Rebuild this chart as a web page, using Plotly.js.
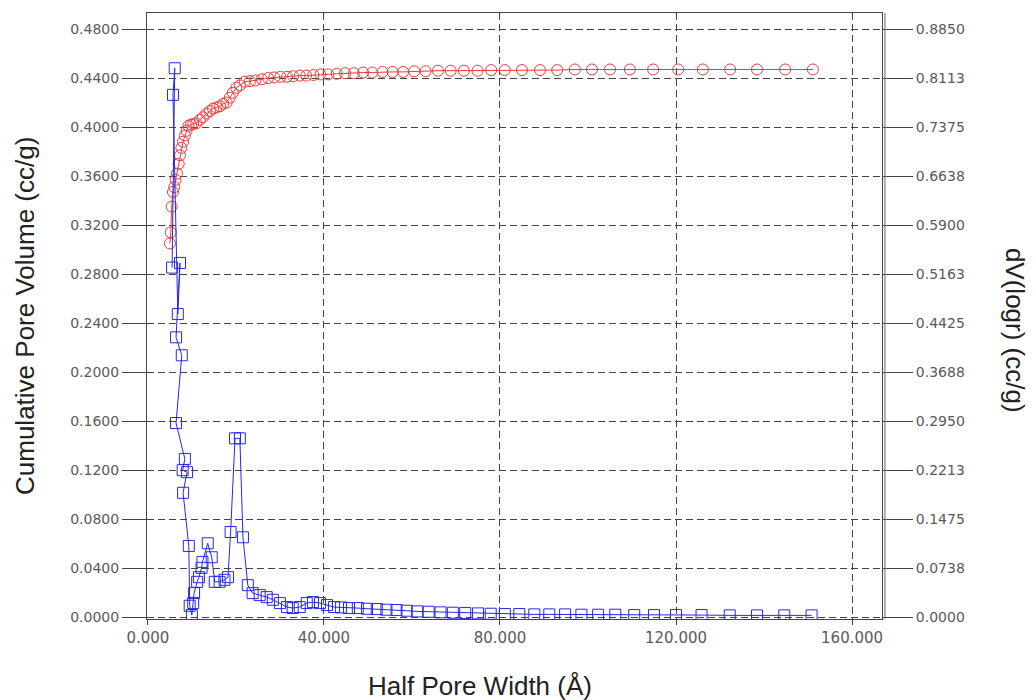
<!DOCTYPE html>
<html>
<head>
<meta charset="utf-8">
<script src="https://cdn.plot.ly/plotly-3.0.1.min.js"></script>
<style>html,body{margin:0;padding:0;background:#fff;}#chart{width:1035px;height:700px;}</style>
</head>
<body>
<div id="chart"></div>
<script>
// Cumulative pore volume (left axis, cc/g)
var cumX = [5.0,5.2,5.4,5.7,6.0,6.3,6.6,7.0,7.3,7.6,8.0,8.4,8.8,9.2,9.8,10.3,11.0,11.8,12.5,13.3,14.1,14.8,15.6,16.4,17.1,17.9,18.6,19.3,20.1,20.9,22.0,23.2,24.4,25.9,27.3,28.7,30.1,31.6,33.0,34.5,36.0,37.6,39.2,41.0,42.9,44.8,46.8,48.9,51.0,53.3,55.6,58.0,60.5,63.1,65.9,68.8,71.8,74.9,78.0,81.1,85.0,89.1,93.0,97.0,100.9,105.0,109.5,114.8,120.5,126.1,132.3,138.4,144.8,151.1];
var cumY = [0.305,0.314,0.335,0.347,0.351,0.357,0.362,0.370,0.377,0.383,0.388,0.393,0.397,0.401,0.402,0.4025,0.403,0.406,0.408,0.411,0.413,0.415,0.416,0.417,0.419,0.420,0.424,0.428,0.432,0.434,0.437,0.4375,0.438,0.439,0.440,0.4405,0.441,0.441,0.4415,0.442,0.442,0.4425,0.443,0.443,0.4435,0.444,0.444,0.4445,0.4445,0.445,0.445,0.445,0.4455,0.4455,0.446,0.446,0.446,0.446,0.4465,0.4465,0.4465,0.4465,0.4465,0.447,0.447,0.447,0.447,0.447,0.447,0.447,0.447,0.447,0.447,0.447];

// dV(logr) (right axis, cc/g)
var dvX = [5.5,6.1,5.7,6.8,7.3,6.4,7.7,6.4,8.4,7.9,8.9,8.0,9.3,9.5,10.0,10.3,10.5,11.2,11.6,12.2,12.4,13.6,14.5,15.2,16.3,17.4,18.2,18.8,19.8,20.9,21.6,22.7,23.8,25.4,27.0,28.4,30.0,31.6,32.9,34.5,36.1,37.5,39.1,40.7,42.3,43.9,45.7,47.7,49.8,52.0,54.2,56.5,58.8,61.2,63.8,66.5,69.3,72.1,75.0,77.9,81.1,84.4,87.8,91.2,94.8,98.5,102.3,106.2,110.5,115.0,120.0,125.8,132.2,138.4,144.6,150.8];
var dvY = [0.526,0.826,0.786,0.456,0.533,0.421,0.394,0.292,0.238,0.221,0.218,0.187,0.107,0.017,0.003,0.021,0.036,0.053,0.060,0.074,0.083,0.111,0.090,0.053,0.053,0.056,0.060,0.128,0.269,0.269,0.120,0.048,0.036,0.033,0.030,0.026,0.021,0.015,0.0135,0.015,0.021,0.0225,0.021,0.018,0.015,0.0145,0.0135,0.0135,0.0125,0.012,0.011,0.0105,0.0095,0.0085,0.008,0.007,0.0065,0.006,0.0055,0.005,0.0045,0.0045,0.004,0.004,0.004,0.0035,0.0035,0.0035,0.003,0.003,0.003,0.003,0.0025,0.0025,0.0025,0.0025];

var xTicks = [0,40,80,120,160];
var leftTicks = [0,0.04,0.08,0.12,0.16,0.20,0.24,0.28,0.32,0.36,0.40,0.44,0.48];
var rightTicks = [0,0.07375,0.1475,0.22125,0.295,0.36875,0.4425,0.51625,0.59,0.66375,0.7375,0.81125,0.885];
var rightTickText = ['0.0000','0.0738','0.1475','0.2213','0.2950','0.3688','0.4425','0.5163','0.5900','0.6638','0.7375','0.8113','0.8850'];

var tickFont = {family:'DejaVu Sans, sans-serif', size:14, color:'#5a5a5a'};
var xTickFont = {family:'DejaVu Sans, sans-serif', size:15, color:'#5a5a5a'};
var titleFont = {family:'Liberation Sans, Arial, sans-serif', size:26, color:'#222'};
var gridDash = '7px,4px';

var traces = [
  {x:cumX, y:cumY, type:'scatter', mode:'lines+markers', yaxis:'y',
   line:{color:'rgb(235,60,60)', width:1},
   marker:{symbol:'circle-open', size:11, color:'rgb(235,60,60)', line:{width:1, color:'rgb(235,60,60)'}},
   showlegend:false},
  {x:dvX, y:dvY, type:'scatter', mode:'lines+markers', yaxis:'y2',
   line:{color:'rgb(40,40,230)', width:1},
   marker:{symbol:'square-open', size:11, color:'rgb(40,40,230)', line:{width:1, color:'rgb(40,40,230)'}},
   showlegend:false}
];

var layout = {
  width:1035, height:700,
  margin:{l:147, r:153, t:13, b:81},
  paper_bgcolor:'#fff', plot_bgcolor:'#fff',
  xaxis:{range:[-0.2,166.8], tickvals:xTicks, tickformat:'.3f', showgrid:true,
         gridcolor:'#444', griddash:gridDash, gridwidth:1, zeroline:false,
         showline:true, linecolor:'#444', linewidth:1, mirror:true,
         ticks:'outside', ticklen:5, tickcolor:'#444', tickfont:xTickFont},
  yaxis:{range:[-0.0016,0.4931], tickvals:leftTicks, tickformat:'.4f', showgrid:true,
         gridcolor:'#444', griddash:gridDash, gridwidth:1, zeroline:false,
         showline:true, linecolor:'#444', linewidth:1,
         ticks:'outside', ticklen:24, tickcolor:'#444', tickfont:tickFont},
  yaxis2:{range:[-0.00295,0.90916], overlaying:'y', side:'right', tickvals:rightTicks, ticktext:rightTickText,
          showgrid:false, zeroline:false, showline:true, linecolor:'#444', linewidth:1,
          ticks:'outside', ticklen:30, tickcolor:'#444', tickfont:tickFont},
  shapes:[
    {type:'line', xref:'paper', yref:'paper', x0:1.004, x1:1.004, y0:0, y1:1.0, line:{color:'#666', width:1}}
  ],
  annotations:[
    {text:'Cumulative Pore Volume (cc/g)', xref:'paper', yref:'paper', x:-0.166, y:0.5,
     xanchor:'center', yanchor:'middle', textangle:-90, showarrow:false, font:titleFont},
    {text:'dV(logr) (cc/g)', xref:'paper', yref:'paper', x:1.181, y:0.477,
     xanchor:'center', yanchor:'middle', textangle:90, showarrow:false, font:titleFont},
    {text:'Half Pore Width (Å)', xref:'paper', yref:'paper', x:0.453, y:-0.1106,
     xanchor:'center', yanchor:'middle', showarrow:false, font:titleFont}
  ]
};

Plotly.newPlot('chart', traces, layout, {displayModeBar:false, staticPlot:true});
</script>
</body>
</html>
